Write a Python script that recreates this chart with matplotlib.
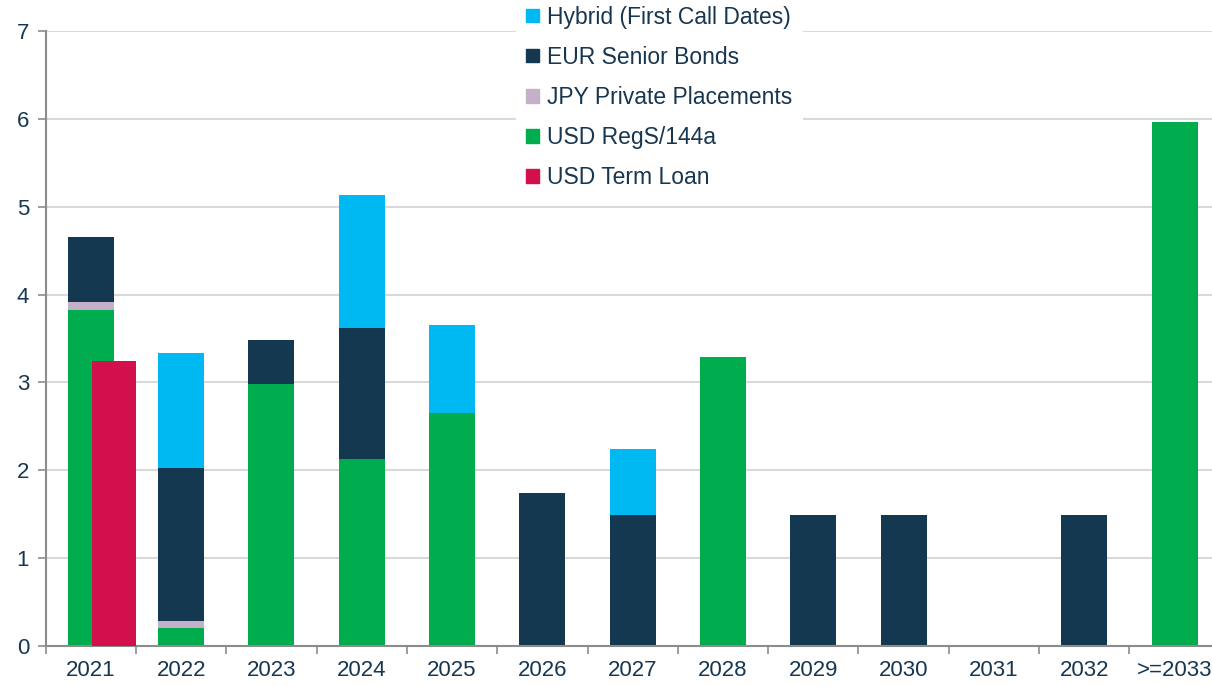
import numpy as np
import matplotlib
matplotlib.use("Agg")
import matplotlib.pyplot as plt
from matplotlib.patches import Patch

plt.rcParams["font.family"] = ["Liberation Sans", "DejaVu Sans"]

years = ["2021", "2022", "2023", "2024", "2025", "2026", "2027",
         "2028", "2029", "2030", "2031", "2032", ">=2033"]

usd_regs = [3.83, 0.21, 2.98, 2.13, 2.65, 0, 0, 3.29, 0, 0, 0, 0, 5.96]
jpy_pp = [0.09, 0.07, 0, 0, 0, 0, 0, 0, 0, 0, 0, 0, 0]
eur_senior = [0.74, 1.75, 0.50, 1.49, 0, 1.74, 1.49, 0, 1.49, 1.49, 0, 1.49, 0]
hybrid = [0, 1.30, 0, 1.51, 1.00, 0, 0.75, 0, 0, 0, 0, 0, 0]
term_loan = [3.24, 0, 0, 0, 0, 0, 0, 0, 0, 0, 0, 0, 0]

C_HYB = "#00B9F2"
C_EUR = "#14384F"
C_JPY = "#C4B0C9"
C_USD = "#00AD4E"
C_TL = "#D1104C"
TXT = "#17364F"

fig = plt.figure(figsize=(12.12, 6.86), dpi=100)
ax = fig.add_axes([45.7 / 1212, 40 / 686, 1174 / 1212, 615 / 686])

x = np.arange(len(years))
w = 0.51
b1 = np.array(usd_regs)
b2 = b1 + np.array(jpy_pp)
b3 = b2 + np.array(eur_senior)

ax.bar(x, usd_regs, w, color=C_USD, zorder=2)
ax.bar(x, jpy_pp, w, bottom=b1, color=C_JPY, zorder=2)
ax.bar(x, eur_senior, w, bottom=b2, color=C_EUR, zorder=2)
ax.bar(x, hybrid, w, bottom=b3, color=C_HYB, zorder=2)
tl = np.array(term_loan)
ax.bar(x[tl > 0] + 0.255, tl[tl > 0], 0.49, color=C_TL, zorder=3)

ax.set_xlim(-0.5, len(years) - 0.5)
ax.set_ylim(0, 7)
ax.set_yticks(range(0, 8))
ax.set_xticks(x)
ax.set_xticklabels(years)
ax.set_xticks(np.arange(-0.5, len(years), 1), minor=True)
ax.tick_params(axis="x", which="major", length=0, labelsize=16, labelcolor=TXT, pad=10)
ax.tick_params(axis="x", which="minor", length=6, width=1.2, color="#8C8C8C")
ax.tick_params(axis="y", length=6, width=1.2, color="#8C8C8C", labelsize=16, labelcolor=TXT, pad=6)

ax.grid(axis="y", color="#D9D9D9", linewidth=1.5, zorder=0)
for s in ["top", "right"]:
    ax.spines[s].set_visible(False)
for s in ["left", "bottom"]:
    ax.spines[s].set_color("#8C8C8C")
    ax.spines[s].set_linewidth(1.5)

handles = [Patch(color=C_HYB), Patch(color=C_EUR), Patch(color=C_JPY),
           Patch(color=C_USD), Patch(color=C_TL)]
labels = ["Hybrid (First Call Dates)", "EUR Senior Bonds", "JPY Private Placements",
          "USD RegS/144a", "USD Term Loan"]
leg = fig.legend(handles, labels, loc="upper left", bbox_to_anchor=(516 / 1212, 1.007),
                 frameon=True, fancybox=False, facecolor="white", edgecolor="none",
                 framealpha=1, fontsize=16.5, handlelength=0.55, handleheight=0.55,
                 handletextpad=0.35, labelspacing=0.75, borderpad=0.45,
                 borderaxespad=0)
for t in leg.get_texts():
    t.set_color(TXT)
leg.set_zorder(10)

fig.savefig("out.png", dpi=100)
